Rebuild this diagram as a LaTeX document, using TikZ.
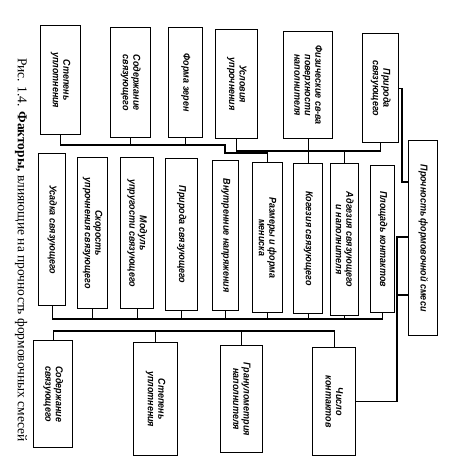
\documentclass[tikz,border=0pt]{standalone}
\usepackage{fontspec}
\usepackage{graphicx}
\setmainfont{Liberation Serif}
\newfontfamily\boxfont[FakeStretch=0.9]{Liberation Sans}
\usetikzlibrary{calc}
\newcommand{\vtext}[2]{\rotatebox{-90}{\parbox{#1}{\centering #2}}}
\newcommand{\factor}[6]{%  \factor{name}{x}{y}{w}{h}{text}
  \node[factor, minimum width=#4pt, minimum height=#5pt] (#1) at (#2,#3)
       {\vtext{\dimexpr #5pt-6pt\relax}{#6}};}

\begin{document}
\begin{tikzpicture}[x=1pt, y=-1pt,
    factor/.style={draw, line width=1.4pt, anchor=north west, inner sep=0pt,
                   font=\boxfont\bfseries\itshape\fontsize{10}{10.5}\selectfont},
    link/.style={line width=1.1pt}]
  \useasboundingbox (0,0) rectangle (449,476);
  % caption
  \node[rotate=-90, font=\fontsize{13.5}{15}\selectfont] (caption) at (21,250)
       {Рис. 1.4. \textbf{Факторы,} влияющие на прочность формовочных смесей};
  % top row
  \factor{t1}{40}{25}{40}{109}{Степень\\уплотнения}
  \factor{t2}{110}{27}{40}{110}{Содержание\\связующего}
  \factor{t3}{168}{27}{34}{110}{Форма зерен}
  \factor{t4}{215}{29}{42}{109}{Условия\\упрочнения}
  \factor{t5}{283}{31}{49}{107}{Физические св-ва\\поверхности\\наполнителя}
  \factor{t6}{362}{33}{36}{109}{Природа\\связующего}
  % middle row
  \factor{m1}{38}{153}{27}{152}{Усадка связующего}
  \factor{m2}{77}{157}{30}{151}{Скорость\\упрочнения связующего}
  \factor{m3}{120}{157}{33}{151}{Модуль\\упругости связующего}
  \factor{m4}{165}{158}{32}{152}{Природа связующего}
  \factor{m5}{212}{160}{26}{150}{Внутренние напряжения}
  \factor{m6}{252}{162}{30}{150}{Размеры и форма\\мениска}
  \factor{m7}{293}{163}{29}{150}{Когезия связующего}
  \factor{m8}{330}{163}{28}{152}{Адгезия связующего\\и наполнителя}
  \factor{m9}{370}{165}{24}{147}{Площадь контактов}
  % result
  \factor{P}{408}{140}{29}{195}{Прочность формовочной смеси}
  % bottom row
  \factor{b1}{33}{340}{39}{107}{Содержание\\связующего}
  \factor{b2}{133}{342}{44}{113}{Степень\\уплотнения}
  \factor{b3}{220}{345}{42}{107}{Гранулометрия\\наполнителя}
  \factor{b4}{312}{347}{43}{108}{Число\\контактов}
  % buses
  \coordinate (busA) at (0,145);
  \coordinate (busAstep) at (0,153);
  \coordinate (busB) at (0,151);
  \coordinate (busM) at (0,319);
  \coordinate (busL) at (0,331);
  \coordinate (jogA) at (225,145);
  \coordinate (jogR1) at (402,182);
  \coordinate (jogR2) at (397,237);
  \coordinate (jogR3) at (397,295);
  % top connectors
  \draw[link] (t1.south) |- (jogA) |- (m6.north |- busAstep) -- (m6.north);
  \draw[link] (t2.south) -- (t2.south |- busA);
  \draw[link] (t3.south) -- (t3.south |- busA);
  \draw[link] (t4.south) |- (t5.south |- busB);
  \draw[link] (t5.south) -- (m7.north);
  \draw[link] (t5.south |- busB) -- (t6.south |- busB) -- (t6.south);
  \draw[link] (m8.north) -- (m8.north |- busB);
  \draw[link] (t6.east) -| (jogR1) -- (jogR1 -| P.west);
  % middle connectors
  \draw[link] (m1.south) |- (m9.south |- busM) -- (m9.south);
  \foreach \m in {m2,m3,m4,m5,m6,m7,m8}
    \draw[link] (\m.south) -- (\m.south |- busM);
  % right connectors
  \draw[link] (P.west |- jogR2) -- (jogR2) |- (b4.east);
  \draw[link] (P.west |- jogR3) -- (jogR3);
  % bottom connectors
  \draw[link] (b1.north) |- (b4.north |- busL) -- (b4.north);
  \draw[link] (b2.north) -- (b2.north |- busL);
  \draw[link] (b3.north) -- (b3.north |- busL);
\end{tikzpicture}
\end{document}
